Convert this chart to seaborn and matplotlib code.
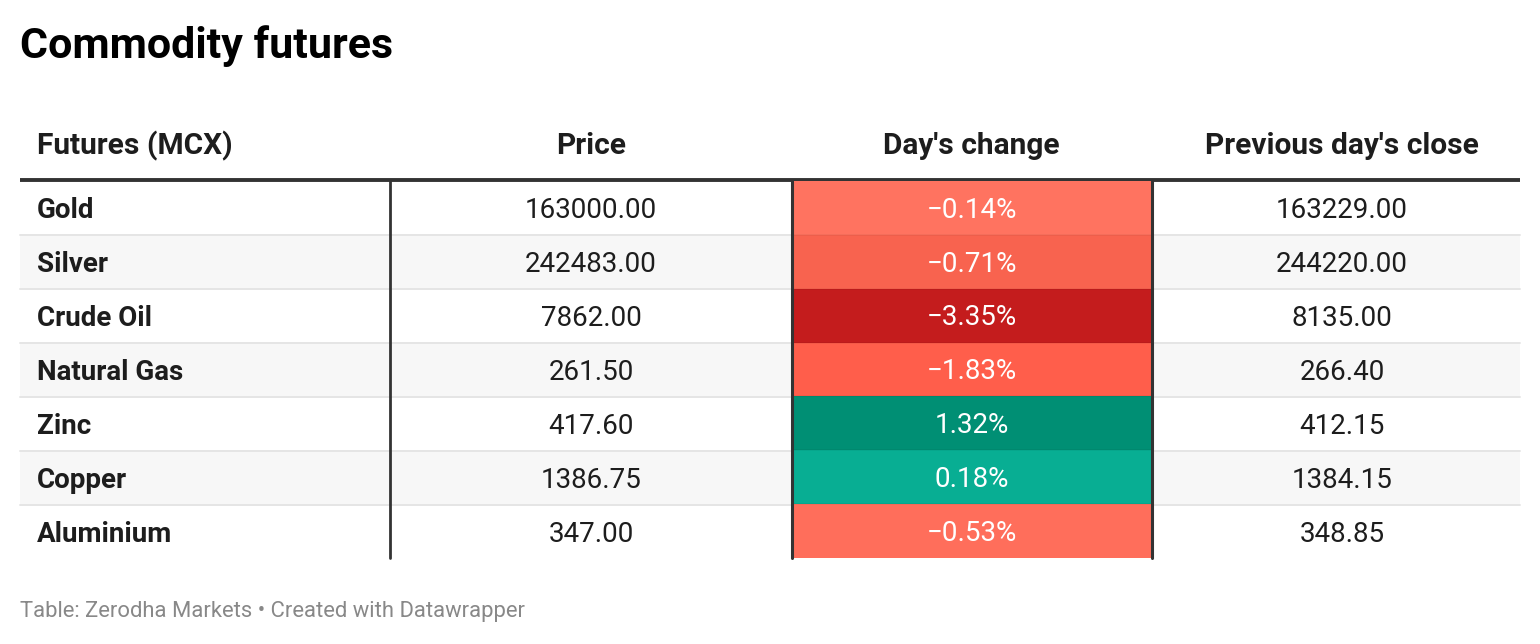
import matplotlib
matplotlib.use("Agg")
import matplotlib.pyplot as plt
import numpy as np
import seaborn as sns
from matplotlib.colors import ListedColormap

# table data
commodities = ["Gold", "Silver", "Crude Oil", "Natural Gas", "Zinc", "Copper", "Aluminium"]
prices = [163000.00, 242483.00, 7862.00, 261.50, 417.60, 1386.75, 347.00]
day_change = [-0.14, -0.71, -3.35, -1.83, 1.32, 0.18, -0.53]
prev_close = [163229.00, 244220.00, 8135.00, 266.40, 412.15, 1384.15, 348.85]
headers = ["Futures (MCX)", "Price", "Day's change", "Previous day's close"]
change_colors = ["#ff7360", "#f8634f", "#c41c1d", "#ff5e4b", "#008f74", "#08ae93", "#ff6e5b"]

sns.set_theme(style="white")
plt.rcParams["font.family"] = ["Roboto", "DejaVu Sans"]

W, H = 1540, 644
fig = plt.figure(figsize=(W / 100, H / 100), dpi=100)

# layout in pixels
left, right = 20, 1520
head_line = 180
row_top = 181
row_h = 54
n = len(commodities)
table_bottom = row_top + n * row_h - 1
col_edges = [20, 390, 792, 1152, 1520]
col_centers = [37, 591, 971, 1342]
text_dark = "#1d1d1d"
body_size = 20
cap_half = 9.8

ax = fig.add_axes([0, 0, 1, 1])
ax.set_xlim(0, W)
ax.set_ylim(H, 0)
ax.axis("off")

ax.text(20, 58, "Commodity futures", fontsize=31, fontweight="bold",
        color="#000000", va="baseline", ha="left")

for i, h in enumerate(headers):
    ha = "left" if i == 0 else "center"
    ax.text(col_centers[i], 154, h, fontsize=21.5, fontweight="bold",
            color=text_dark, ha=ha, va="baseline")

# zebra rows + separators
for i in range(n):
    y0 = row_top + i * row_h
    if i % 2 == 1:
        ax.fill_between([left, right], y0, y0 + row_h, color="#f7f7f7", lw=0, zorder=0)
    if i > 0:
        ax.plot([left, right], [y0, y0], color="#e5e5e5", lw=1.4, zorder=1)

ax.plot([left, right], [head_line, head_line], color="#333333", lw=2.8,
        solid_capstyle="butt", zorder=3)
ax.plot([390, 390], [head_line, table_bottom], color="#333333", lw=2.0, zorder=3)

def fmt_num(v):
    return f"{v:.2f}"

for i in range(n):
    yb = row_top + i * row_h + row_h / 2 + cap_half
    ax.text(col_centers[0], yb, commodities[i], fontsize=body_size, fontweight="bold",
            color=text_dark, ha="left", va="baseline")
    ax.text(col_centers[1], yb, fmt_num(prices[i]), fontsize=body_size,
            color=text_dark, ha="center", va="baseline")
    ax.text(col_centers[3], yb, fmt_num(prev_close[i]), fontsize=body_size,
            color=text_dark, ha="center", va="baseline")

ax.text(20, 617, "Table: Zerodha Markets \u2022 Created with Datawrapper",
        fontsize=15.8, color="#888888", ha="left", va="baseline")

# day's change column as a heatmap
x0, x1 = col_edges[2], col_edges[3]
hax = fig.add_axes([x0 / W, (H - table_bottom) / H, (x1 - x0) / W,
                    (table_bottom - row_top) / H])
labels = np.array([[f"{v:.2f}%".replace("-", "\u2212")] for v in day_change])
sns.heatmap(np.arange(n).reshape(-1, 1), ax=hax, cmap=ListedColormap(change_colors),
            cbar=False, annot=labels, fmt="",
            annot_kws={"fontsize": body_size, "color": "white", "va": "baseline"},
            xticklabels=False, yticklabels=False)
# put label baselines the same way as the other columns
for t in hax.texts:
    x, y = t.get_position()
    t.set_position((x, y + cap_half / row_h))
for i in range(1, n):
    hax.axhline(i, color="black", alpha=0.05, lw=1.2)
for xv in (0, 1):
    hax.axvline(xv, color="#333333", lw=2.2, clip_on=False)

fig.savefig("out.png", dpi=100)
